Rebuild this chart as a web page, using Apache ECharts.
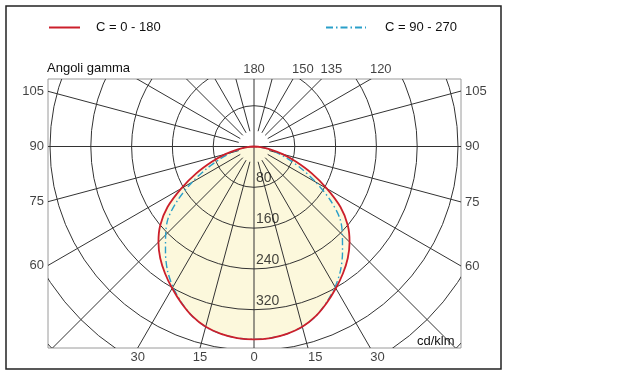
<!DOCTYPE html>
<html>
<head>
<meta charset="utf-8">
<script src="https://cdn.jsdelivr.net/npm/echarts@6/dist/echarts.min.js"></script>
<style>
    html, body { margin: 0; padding: 0; background: #fff; }
    #chart { width: 640px; height: 378px; }
</style>
</head>
<body>
<div id="chart"></div>
<script>
// angoli gamma dei punti letti (gradi)
const gammaAngles = [0, 5, 10, 15, 20, 25, 30, 35, 40, 45, 50, 55, 60, 65, 70, 75, 80, 85, 90]
// intensita' cd/klm, piano C = 0 - 180
const intensityC0 = [378, 377, 373, 366, 354, 338, 321, 304, 286, 265, 240, 207, 165, 125, 88, 58, 32, 13, 0]
// intensita' cd/klm, piano C = 90 - 270
const intensityC90 = [378, 377, 373, 366, 354, 337, 318, 296, 270, 245, 220, 182, 140, 102, 70, 46, 27, 11, 0]

// cerchi della griglia (quelli etichettati + quelli esterni)
const ringLabels = [80, 160, 240, 320]
const outerRings = [400, 480, 560, 640]
// raggi ogni 15 gradi
const spokeAngles = [0, 15, 30, 45, 60, 75, 90, 105, 120, 135, 150, 165, 180, 195, 210, 225, 240, 255, 270, 285, 300, 315, 330, 345]
// etichette degli angoli
const topAngleLabels = [180, 150, 135, 120]
const sideAngleLabels = [105, 90, 75, 60]
const bottomAngleLabels = [-30, -15, 0, 15, 30]

const seriesNames = ['C = 0 - 180', 'C = 90 - 270']

// scala: px per cd/klm, centro del diagramma a (254, 146.5)
const k = 0.51
const gridBox = { left: 48, top: 79, width: 413, height: 269 }
const cx = 254, cy = 146.5
const xMin = -(cx - gridBox.left) / k
const xMax = (gridBox.left + gridBox.width - cx) / k
const yMax = (cy - gridBox.top) / k
const yMin = -(gridBox.top + gridBox.height - cy) / k

const rad = (d) => d * Math.PI / 180

// curva chiusa: lato sinistro da 90 a 0, poi lato destro da 0 a 90
function curvePoints(values) {
    const pts = []
    for (let i = gammaAngles.length - 1; i >= 0; i--) {
        const g = rad(gammaAngles[i])
        pts.push([-values[i] * Math.sin(g), -values[i] * Math.cos(g)])
    }
    for (let i = 1; i < gammaAngles.length; i++) {
        const g = rad(gammaAngles[i])
        pts.push([values[i] * Math.sin(g), -values[i] * Math.cos(g)])
    }
    return pts
}
const curveC0 = curvePoints(intensityC0)
const curveC90 = curvePoints(intensityC90)

// punti delle etichette sul bordo del riquadro
const labelData = []
const txt = { color: '#111', fontSize: 13, fontFamily: 'Liberation Sans, Arial, sans-serif' }
topAngleLabels.forEach((a) => {
    const g = rad(a)
    labelData.push({
        value: [yMax * Math.sin(g) / -Math.cos(g), yMax],
        label: { formatter: String(a), align: a === 180 ? 'center' : 'left', offset: [a === 180 ? 0 : -1, -10] }
    })
})
sideAngleLabels.forEach((a) => {
    const g = rad(a)
    labelData.push({
        value: [xMin, xMin * Math.cos(g) / Math.sin(g)],
        label: { formatter: String(a), align: 'right', offset: [-4, 0] }
    })
    labelData.push({
        value: [xMax, -xMax * Math.cos(g) / Math.sin(g)],
        label: { formatter: String(a), align: 'left', offset: [4, 0] }
    })
})
bottomAngleLabels.forEach((a) => {
    const g = rad(a)
    labelData.push({
        value: [yMin * Math.sin(g) / -Math.cos(g), yMin],
        label: { formatter: String(Math.abs(a)), align: a > 0 ? 'left' : 'center', offset: [0, 9] }
    })
})
ringLabels.forEach((r) => {
    labelData.push({
        value: [0, -r],
        label: { formatter: String(r), align: 'left', offset: [2, -9], fontSize: 14 }
    })
})

const myChart = echarts.init(document.getElementById('chart'))

const options = {
    animation: false,
    legend: [
        {
            data: [seriesNames[0]],
            left: 48, top: 21, padding: 0,
            itemWidth: 31, itemHeight: 14,
            itemStyle: { opacity: 0 }, // solo la linea, senza simbolo
            textStyle: Object.assign({ padding: [0, 0, 0, 11] }, txt)
        },
        {
            data: [seriesNames[1]],
            left: 325, top: 21, padding: 0,
            itemWidth: 40, itemHeight: 14,
            itemStyle: { opacity: 0 },
            textStyle: Object.assign({ padding: [0, 0, 0, 14] }, txt)
        }
    ],
    grid: Object.assign({ show: true, borderColor: '#9a9a9a', borderWidth: 1, backgroundColor: 'transparent' }, gridBox),
    xAxis: { type: 'value', min: xMin, max: xMax, show: false },
    yAxis: { type: 'value', min: yMin, max: yMax, show: false },
    graphic: [
        // cornice esterna
        { type: 'rect', shape: { x: 6, y: 6, width: 495, height: 363 }, style: { fill: null, stroke: '#222', lineWidth: 1.5 }, z: 10 },
        { type: 'text', left: 47, top: 62, style: { text: 'Angoli gamma', fill: txt.color, font: '13px "Liberation Sans", Arial, sans-serif' } },
        { type: 'text', left: 417, top: 335, style: { text: 'cd/klm', fill: txt.color, font: '13px "Liberation Sans", Arial, sans-serif' }, z: 20 }
    ],
    series: [
        // riempimento sotto la curva C0
        {
            type: 'custom',
            silent: true,
            clip: true,
            z: 1,
            data: [[0, 0]],
            renderItem: function (params, api) {
                return {
                    type: 'polygon',
                    shape: { points: curveC0.map((p) => api.coord(p)), smooth: 0.3 },
                    style: { fill: '#fcf8dc', stroke: null }
                }
            }
        },
        // cerchi
        {
            type: 'custom',
            silent: true,
            clip: true,
            z: 2,
            data: ringLabels.concat(outerRings).map((r) => [r, 0]),
            renderItem: function (params, api) {
                const c = api.coord([0, 0])
                const r = api.size([api.value(0), 0])[0]
                return {
                    type: 'circle',
                    shape: { cx: c[0], cy: c[1], r: r },
                    style: { fill: null, stroke: '#333', lineWidth: 1 }
                }
            }
        },
        // raggi
        {
            type: 'custom',
            silent: true,
            clip: true,
            z: 2,
            data: spokeAngles.map((a) => [a, 0]),
            renderItem: function (params, api) {
                const a = api.value(0)
                const g = rad(a)
                const inner = (a % 90 === 0) ? 0 : 31
                const p0 = api.coord([inner * Math.sin(g), -inner * Math.cos(g)])
                const p1 = api.coord([1000 * Math.sin(g), -1000 * Math.cos(g)])
                return {
                    type: 'line',
                    shape: { x1: p0[0], y1: p0[1], x2: p1[0], y2: p1[1] },
                    style: { stroke: '#333', lineWidth: 1 }
                }
            }
        },
        {
            name: seriesNames[1],
            type: 'line',
            data: curveC90,
            smooth: 0.3,
            symbol: 'none',
            z: 3,
            lineStyle: { color: '#2a9fc9', width: 1.4, type: [7, 3, 1.5, 3] },
            itemStyle: { color: '#2a9fc9' }
        },
        {
            name: seriesNames[0],
            type: 'line',
            data: curveC0,
            smooth: 0.3,
            symbol: 'none',
            z: 4,
            lineStyle: { color: '#cc1f2b', width: 1.8 },
            itemStyle: { color: '#cc1f2b' }
        },
        // etichette di angoli e cerchi
        {
            type: 'scatter',
            silent: true,
            clip: false,
            symbolSize: 0,
            z: 5,
            data: labelData,
            label: Object.assign({ show: true, position: 'inside', verticalAlign: 'middle' }, txt)
        }
    ]
}

myChart.setOption(options)
</script>
</body>
</html>
